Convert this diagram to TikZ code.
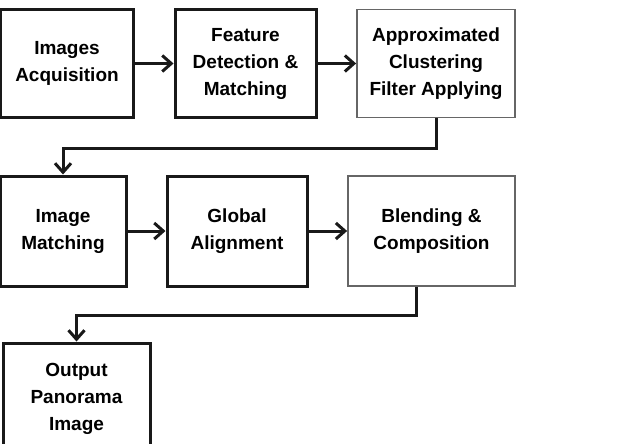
\documentclass[tikz,border=0pt]{standalone}
\usepackage{fontspec}
\setmainfont{Liberation Sans}
\usetikzlibrary{arrows.meta}

\tikzset{
  stage/.style = {draw=black!90, line width=3pt, align=center, inner sep=0pt,
                  font=\bfseries\fontsize{19}{27}\selectfont, minimum height=108pt},
  softstage/.style = {stage, draw=black!60, line width=1.8pt},
  flow/.style = {draw=black!90, line width=3pt, -{Straight Barb[length=9pt,width=16pt,line width=3pt]}}
}

\begin{document}
\begin{tikzpicture}[x=1pt, y=-1pt]
  \useasboundingbox (0,0) rectangle (621,444);
  \begin{scope}
  \clip (0,0) rectangle (621,444);

  \node[stage, minimum width=133pt] (acq) at (67,63.5) {Images\\Acquisition};
  \node[stage, minimum width=141pt] (feat) at (245.5,63.5) {Feature\\Detection \&\\Matching};
  \node[softstage, minimum width=158pt] (filt) at (436,63.5) {Approximated\\Clustering\\Filter Applying};

  \node[stage, minimum width=126pt, minimum height=110pt] (imatch) at (63,231) {Image\\Matching};
  \node[stage, minimum width=140pt, minimum height=110pt] (glob) at (237,231) {Global\\Alignment};
  \node[softstage, minimum width=167pt, minimum height=110pt] (blend) at (431.5,231) {Blending \&\\Composition};

  \node[stage, minimum width=147pt, minimum height=112pt] (out) at (76.5,399) {Output\\Panorama\\Image};

  \draw[flow] (acq) -- (feat);
  \draw[flow] (feat) -- (filt);
  \draw[flow] (filt.south) -- ++(0,30) -| (imatch.north);
  \draw[flow] (imatch) -- (glob);
  \draw[flow] (glob) -- (blend);
  \draw[flow] ([xshift=-15pt]blend.south) -- ++(0,29) -| (out.north);
  \end{scope}
\end{tikzpicture}
\end{document}
